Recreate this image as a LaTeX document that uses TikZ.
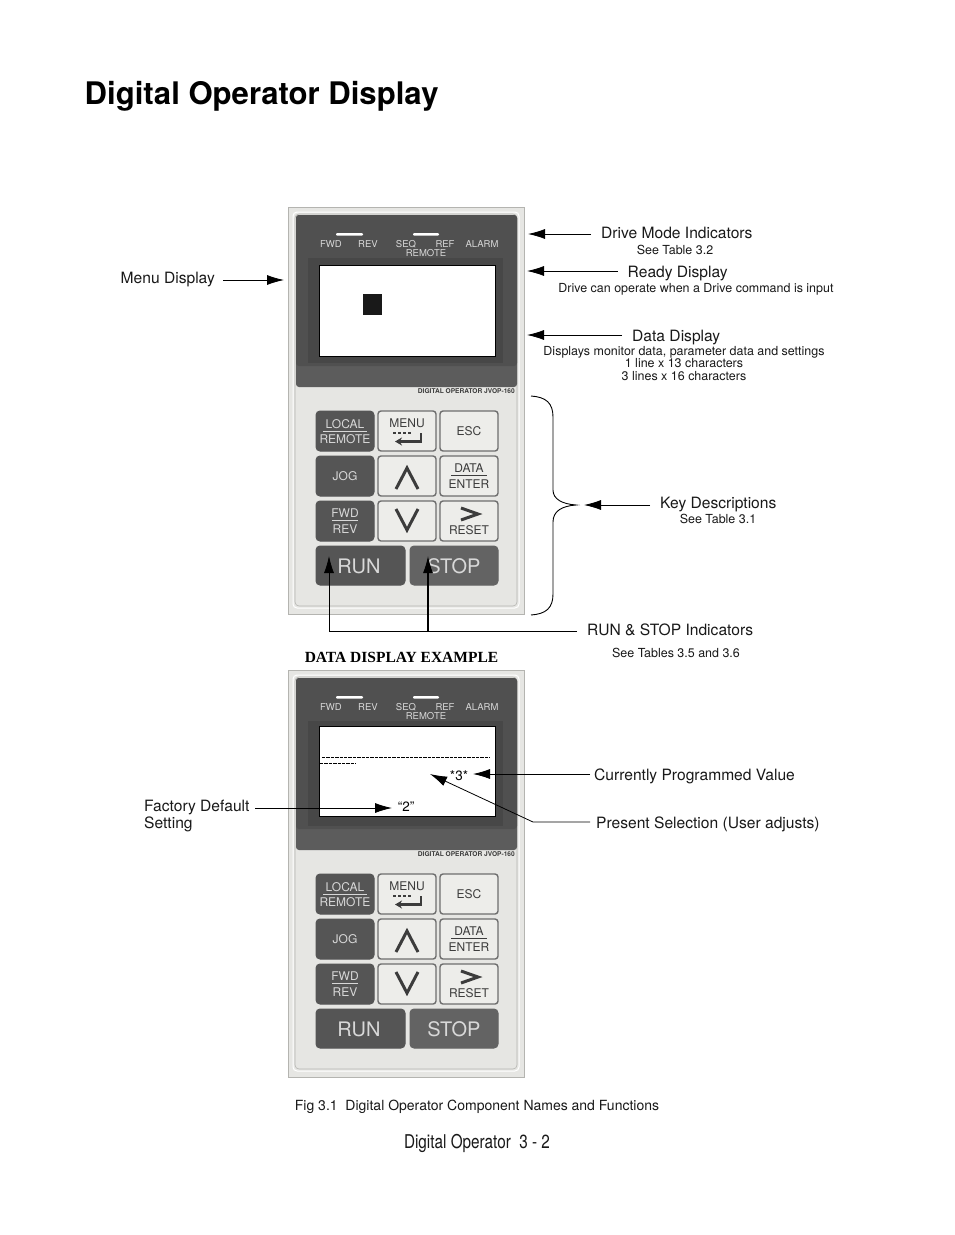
\documentclass[tikz,border=0pt]{standalone}
\usepackage{fontspec}
\usepackage{graphicx}
\setmainfont{TeX Gyre Heros}
\newfontfamily\serifbold{Liberation Serif}[BoldFont={Liberation Serif Bold}]
\usetikzlibrary{arrows.meta,calc}
\definecolor{panelbg}{HTML}{E6E6E3}
\definecolor{panelline}{HTML}{B4B4B0}
\definecolor{paneldark}{HTML}{5C5C5C}
\definecolor{panelmid}{HTML}{505050}
\definecolor{panelinner}{HTML}{474747}
\definecolor{keylight}{HTML}{EDEDEA}
\definecolor{keydark}{HTML}{555555}
\definecolor{keyedge}{HTML}{6E6E6E}
\definecolor{inkgray}{HTML}{3C3C3C}
\definecolor{inklight}{HTML}{D8D8D8}
\tikzset{
  lab/.style={font=\fontsize{15.6}{17}\selectfont,inner xsep=10pt,inner ysep=0pt,anchor=west,text=black!90},
  sub/.style={font=\fontsize{12.47}{12.6}\selectfont,inner sep=0pt,align=center,text=black!90},
  arr/.style={draw=black,line width=.8pt,-{Latex[length=17pt,width=10pt]}},
  lkey/.style={draw=keyedge,line width=1.4pt,fill=keylight,rounded corners=3pt},
  dkey/.style={draw=keydark,line width=1pt,fill=keydark,rounded corners=4pt},
  ktxt/.style={inner sep=0pt,text=inkgray,font=\fontsize{12}{12}\selectfont},
  ktxtd/.style={inner sep=0pt,text=inklight,font=\fontsize{12}{12}\selectfont},
  bigd/.style={inner sep=0pt,text=inklight,font=\fontsize{20}{20}\selectfont},
  ledtxt/.style={inner sep=0pt,text=inklight,font=\fontsize{9.5}{9.5}\selectfont},
  disp/.style={draw=black,line width=.8pt,fill=white},
}
% #1 prefix, #2 y offset, #3 display top, #4 display bottom
\newcommand{\oppanel}[4]{%
\begin{scope}[shift={(0,#2)}]
  \fill[panelbg,draw=panelline,line width=1pt] (288,207) rectangle (524,614);
  \draw[white,line width=1pt,rounded corners=4pt] (293,212) rectangle (519,608);
  \draw[panelline,line width=.6pt,rounded corners=4pt] (295,214) rectangle (517,606);
  \fill[paneldark,rounded corners=3pt] (296,215) rectangle (517,387);
  \fill[panelmid,rounded corners=3pt] (296,215) rectangle (517,366);
  \fill[panelinner] (308,258) rectangle (503,363);
  \fill[white,rounded corners=1pt] (336,233) rectangle (363,235.5);
  \fill[white,rounded corners=1pt] (413,233) rectangle (439,235.5);
  \node[ledtxt] (#1-fwd) at (331,244.5) {FWD};
  \node[ledtxt] (#1-rev) at (368,244.5) {REV};
  \node[ledtxt] (#1-seq) at (406,244.5) {SEQ};
  \node[ledtxt] (#1-ref) at (445,244.5) {REF};
  \node[ledtxt] (#1-alarm) at (482,244.5) {ALARM};
  \node[ledtxt] (#1-remote) at (426,253.5) {REMOTE};
  \node[inner sep=0pt,text=inkgray,font=\fontsize{6.6}{6.6}\bfseries\selectfont,anchor=east] (#1-model) at (515,391) {DIGITAL OPERATOR JVOP-160};
  \draw[disp] (319,#3) rectangle (495,#4);
  % keys
  \draw[dkey] (316,411) rectangle (374,451);
  \draw[lkey] (378,411) rectangle (436,451);
  \draw[lkey] (440,411) rectangle (498,451);
  \draw[dkey] (316,456) rectangle (374,496);
  \draw[lkey] (378,456) rectangle (436,496);
  \draw[lkey] (440,456) rectangle (498,496);
  \draw[dkey] (316,501) rectangle (374,541);
  \draw[lkey] (378,501) rectangle (436,541);
  \draw[lkey] (440,501) rectangle (498,541);
  \draw[dkey] (316,546) rectangle (405,585);
  \draw[dkey,draw=keydark!92,fill=keydark!92] (410,546) rectangle (498,585);
  \node[ktxtd] (#1-local) at (345,424) {LOCAL};
  \draw[inklight,line width=.9pt] (323,431) -- (367,431);
  \node[ktxtd] (#1-remotekey) at (345,439) {REMOTE};
  \node[ktxtd] (#1-jog) at (345,476) {JOG};
  \node[ktxtd] (#1-fwdkey) at (345,513) {FWD};
  \draw[inklight,line width=.9pt] (332,520) -- (358,520);
  \node[ktxtd] (#1-revkey) at (345,529) {REV};
  \node[ktxt] (#1-menu) at (407,423) {MENU};
  \draw[inkgray,line width=2.4pt,-{Stealth[length=7pt,width=8pt]}] (421,433) |- (395,441.5);
  \draw[inkgray,line width=2.4pt,dash pattern=on 3pt off 2pt] (393,433) -- (412,433);
  \node[ktxt] (#1-esc) at (469,431) {ESC};
  \draw[inkgray,line width=3pt] (396,489) -- (407,468) -- (418,489);
  \draw[inkgray,line width=3pt] (396,509) -- (407,530) -- (418,509);
  \node[ktxt] (#1-data) at (469,468) {DATA};
  \draw[inkgray,line width=.9pt] (451,475) -- (487,475);
  \node[ktxt] (#1-enter) at (469,484) {ENTER};
  \draw[inkgray,line width=3pt] (461,508) -- (478,514) -- (461,520);
  \node[ktxt] (#1-reset) at (469,530) {RESET};
  \node[bigd] (#1-run) at (359,566) {RUN};
  \node[bigd] (#1-stop) at (454,566) {STOP};
\end{scope}}
\begin{document}
\begin{tikzpicture}[x=1pt,y=-1pt]
\useasboundingbox (0,0) rectangle (954,1235);
\fill[white] (0,0) rectangle (954,1235);
\node[inner sep=0pt,anchor=west,font=\fontsize{31.1}{31}\bfseries\selectfont] (title) at (84.5,96) {Digital Operator Display};

\oppanel{a}{0}{265}{356}
\oppanel{b}{463}{263}{353}
\fill[black!90] (363,294) rectangle (382,315);

% upper labels
\node[lab] (drive) at (591,233) {Drive Mode Indicators};
\node[sub] (drivesub) at (675,250) {See Table 3.2};
\node[lab] (ready) at (617.5,274) {Ready Display};
\node[sub] (readysub) at (696,289) {Drive can operate when a Drive command is input};
\node[lab] (data) at (622,338) {Data Display};
\node[sub] (datasub) at (684,363.5) {Displays monitor data, parameter data and settings\\1 line x 13 characters\\3 lines x 16 characters};
\node[lab,inner xsep=8pt,anchor=east] (menud) at (223,280) {Menu Display};
\node[lab] (keyd) at (650,505) {Key Descriptions};
\node[sub] (keysub) at (718,519) {See Table 3.1};
\node[lab] (runstop) at (577,630) {RUN \& STOP Indicators};
\node[sub] (runsub) at (676,653) {See Tables 3.5 and 3.6};
\node[inner sep=0pt,font=\serifbold\fontsize{15.5}{15}\bfseries\selectfont] (example) at (401.5,657) {DATA DISPLAY EXAMPLE};

\coordinate (drivetip) at (528,234);
\coordinate (readytip) at (527,271);
\coordinate (datatip) at (527,335);
\coordinate (menutip) at (284,280);
\coordinate (keytip) at (584,505);
\coordinate (runtip) at (329,556);
\coordinate (stoptip) at (428,556);
\coordinate (rsjoin) at (428,631);
\draw[arr] (drive.west |- drivetip) -- (drivetip);
\draw[arr] (ready.west |- readytip) -- (readytip);
\draw[arr] (data.west |- datatip) -- (datatip);
\draw[arr] (menud.east |- menutip) -- (menutip);
\draw[arr] (keyd.west |- keytip) -- (keytip);
\draw[arr] (runstop.west |- rsjoin) -| (runtip);
\draw[arr,line width=1.2pt] (rsjoin) -- (stoptip);

% brace
\node[inner sep=0pt,minimum size=0pt] (brace) at (576,505) {};
\draw[line width=.9pt] (531,396) .. controls (546,397) and (553,403) .. (553,417) -- (553,490)
   .. controls (553,499) and (562,504) .. (brace.center)
   .. controls (562,506) and (553,511) .. (553,522) -- (553,594)
   .. controls (553,608) and (546,614) .. (531,615);

% lower screen
\draw[line width=.7pt,dash pattern=on 3.4pt off 1pt] (322,757) -- (490,757);
\draw[line width=.7pt,dash pattern=on 3.4pt off 1pt] (320,763) -- (356,763);
\node[inner sep=0pt,font=\fontsize{13.5}{13.5}\selectfont] (three) at (459,775.5) {*3*};
\node[inner sep=0pt,font=\fontsize{13.5}{13.5}\selectfont] (two) at (406,807) {“2”};
\node[lab,inner xsep=4pt] (current) at (590,776.5) {Currently Programmed Value};
\node[lab,inner xsep=6pt] (present) at (590,824) {Present Selection (User adjusts)};
\node[lab,inner xsep=5pt,anchor=west,align=left] (factory) at (139,816) {Factory Default\\Setting};
\coordinate (curtip) at (473,774);
\coordinate (pretip) at (430,774);
\coordinate (prebend) at (533,822);
\coordinate (factail) at (255,808);
\coordinate (factip) at (392,808);
\draw[arr] (current.west |- curtip) -- (curtip);
\draw[arr] (present.west |- prebend) -- (prebend) -- (pretip);
\draw[arr] (factail) -- (factip);

% foot
\node[inner sep=0pt,font=\fontsize{14}{14}\selectfont,text=black!90] (caption) at (477,1107) {Fig 3.1\ \ Digital Operator Component Names and Functions};
\node[inner sep=0pt,font=\fontsize{19}{19}\selectfont,text=black!90] (foot) at (477,1143) {\scalebox{.805}[1]{Digital Operator\ \ 3 - 2}};
\end{tikzpicture}
\end{document}
